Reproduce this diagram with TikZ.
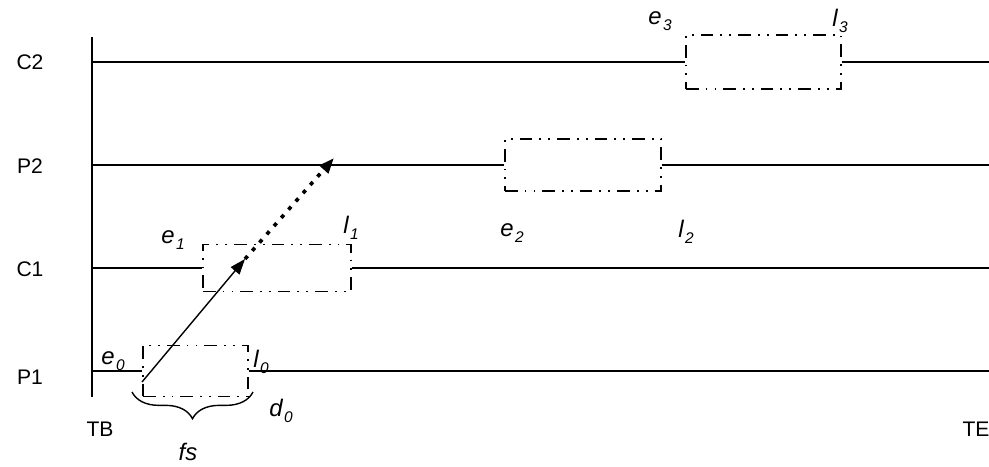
\documentclass[tikz,border=0pt]{standalone}
\usepackage{fontspec}
\setmainfont{Liberation Sans}
\usetikzlibrary{arrows.meta,decorations.pathreplacing}

\newcommand{\tsub}[2]{#1\kern1pt\raisebox{-4pt}{\fontsize{11}{12}\selectfont #2}}

\begin{document}
\begin{tikzpicture}[x=0.025cm, y=-0.025cm, >={Triangle[length=11pt,width=8pt]},
    lane/.style={line width=1.3pt},
    task/.style={draw, line width=0.9pt, inner sep=0pt,
        dash pattern=on 9pt off 5pt on 1.3pt off 5pt on 1.3pt off 5pt},
    lbl/.style={font=\fontsize{15}{18}\selectfont},
    ilbl/.style={font=\fontsize{17}{20}\selectfont\itshape}]
    \useasboundingbox (0,0) rectangle (989,467);
    % time axis and lane ends
    \coordinate (tb-top) at (92,37); \coordinate (tb-bot) at (92,397);
    \draw[lane] (tb-top) -- (tb-bot);
    \foreach \row/\yy/\ly in {C2/62/62, P2/165/166, C1/268/269, P1/371/377} {
        \node[lbl] (\row) at (30,\ly) {\row};
        \coordinate (\row-s) at (92,\yy); \coordinate (\row-e) at (989,\yy);
    }
    \node[lbl] (TB) at (100,429) {TB}; \node[lbl] (TE) at (976,429) {TE};
    % tasks
    \node[task, minimum width=2.625cm, minimum height=1.275cm] (t0) at (195.5,371) {};
    \node[task, minimum width=3.7cm, minimum height=1.175cm] (t1) at (277,268) {};
    \node[task, minimum width=3.9cm, minimum height=1.3cm] (t2) at (583,165) {};
    \node[task, minimum width=3.875cm, minimum height=1.35cm] (t3) at (763.5,62) {};
    \draw[lane] (P1-s) -- (t0.west) (t0.east) -- (P1-e);
    \draw[lane] (C1-s) -- (t1.west) (t1.east) -- (C1-e);
    \draw[lane] (P2-s) -- (t2.west) (t2.east) -- (P2-e);
    \draw[lane] (C2-s) -- (t3.west) (t3.east) -- (C2-e);
    % start and end labels
    \node[ilbl] (e0) at (113,361) {\tsub{e}{0}}; \node[ilbl] (l0) at (261,362) {\tsub{l}{0}};
    \node[ilbl] (e1) at (173,240) {\tsub{e}{1}}; \node[ilbl] (l1) at (351,228) {\tsub{l}{1}};
    \node[ilbl] (e2) at (512,233) {\tsub{e}{2}}; \node[ilbl] (l2) at (686,232) {\tsub{l}{2}};
    \node[ilbl] (e3) at (660,21) {\tsub{e}{3}}; \node[ilbl] (l3) at (840,21) {\tsub{l}{3}};
    \node[ilbl] (d0) at (281,411) {\tsub{d}{0}};
    % brace and arrows
    \coordinate (br-a) at (132,392); \coordinate (br-b) at (253,392);
    \draw[line width=1pt, decorate, decoration={brace, mirror, amplitude=19pt}] (br-a) -- (br-b);
    \node[ilbl] (fs) at (188,452) {fs};
    \coordinate (go) at (142,382); \coordinate (mid) at (245,259); \coordinate (tip) at (334,158);
    \draw[->, line width=1pt] (go) -- (mid);
    \draw[->, line width=2.6pt, dash pattern=on 2.8pt off 5pt] (mid) -- (tip);
\end{tikzpicture}
\end{document}
